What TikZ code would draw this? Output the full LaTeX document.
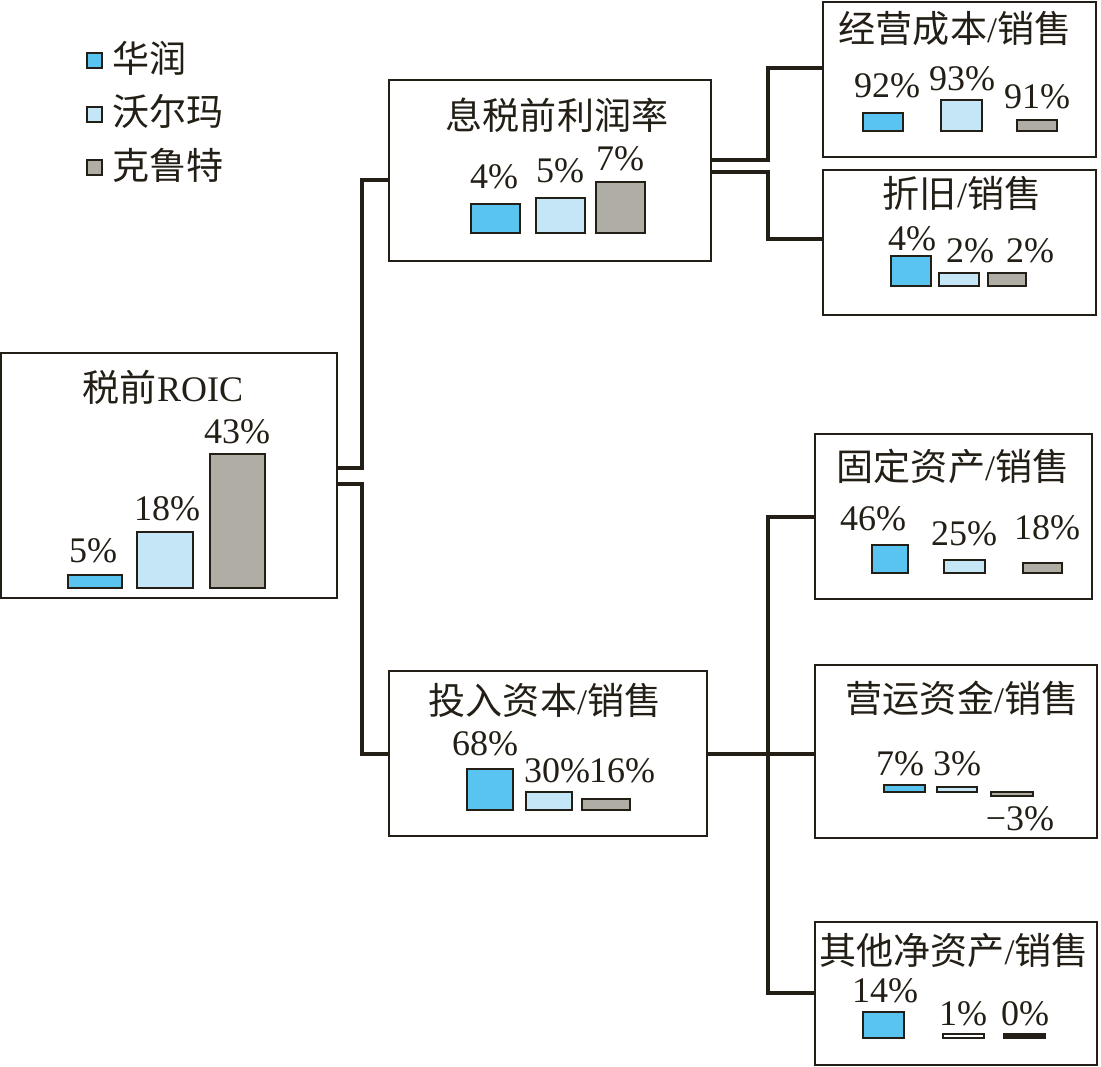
\documentclass[tikz,border=0pt]{standalone}
\usepackage{fontspec}
\setmainfont{Liberation Serif}
\newfontfamily\cjk[Scale=1.03]{Noto Sans CJK SC}
\definecolor{ink}{RGB}{35,31,22}
\definecolor{cA}{RGB}{90,196,240}
\definecolor{cB}{RGB}{196,230,247}
\definecolor{cC}{RGB}{176,173,165}
\begin{document}
\begin{tikzpicture}[x=0.75pt,y=-0.75pt,
  box/.style={draw=ink, line width=1.5pt, rectangle, inner sep=0pt, fill=white},
  conn/.style={draw=ink, line width=2.3pt},
  txt/.style={anchor=base, inner sep=0pt, font=\fontsize{27}{30}\selectfont, text=ink},
  hr/.style={fill=cA, draw=ink, line width=1.2pt},
  wm/.style={fill=cB, draw=ink, line width=1.2pt},
  kr/.style={fill=cC, draw=ink, line width=1.2pt}]
\useasboundingbox (0,0) rectangle (1101,1067);
\fill[white] (0,0) rectangle (1101,1067);

% boxes
\node[box, minimum width=252pt, minimum height=183.75pt] (roic) at (169,475.5) {};
\node[box, minimum width=241.5pt, minimum height=135.75pt] (ebit) at (550,170.5) {};
\node[box, minimum width=238.5pt, minimum height=123.75pt] (ic) at (548,753.5) {};
\node[box, minimum width=204.75pt, minimum height=116.25pt] (opc) at (959.5,79.5) {};
\node[box, minimum width=204.75pt, minimum height=108.75pt] (dep) at (959.5,242.5) {};
\node[box, minimum width=207.75pt, minimum height=123.75pt] (fa) at (953.5,516.5) {};
\node[box, minimum width=211.5pt, minimum height=129.75pt] (wc) at (956,751.5) {};
\node[box, minimum width=211.5pt, minimum height=107.25pt] (ona) at (956,993.5) {};

% connectors
\draw[conn] (roic.east |- 0,468) -| (362,180) -- (ebit.west |- 0,180);
\draw[conn] (roic.east |- 0,484) -| (362,754) -- (ic.west |- 0,754);
\draw[conn] (ebit.east |- 0,160) -| (768,68) -- (opc.west |- 0,68);
\draw[conn] (ebit.east |- 0,172) -| (768,239) -- (dep.west |- 0,239);
\draw[conn] (fa.west |- 0,517) -| (768,993) -- (ona.west |- 0,993);
\draw[conn] (ic.east |- 0,754) -- (wc.west |- 0,754);

% legend
\path[hr] (87,53) rectangle (102,68);
\path[wm] (87,107) rectangle (102,122);
\path[kr] (87,160) rectangle (102,175);
\node[txt, anchor=base west] (lg1) at (112,72) {\cjk 华润};
\node[txt, anchor=base west] (lg2) at (112,125) {\cjk 沃尔玛};
\node[txt, anchor=base west] (lg3) at (112,179) {\cjk 克鲁特};

% titles
\node[txt] (troic) at (163,401) {{\cjk 税前}ROIC};
\node[txt] (tebit) at (557,129) {\cjk 息税前利润率};
\node[txt] (tic) at (545,714) {{\cjk 投入资本}/{\cjk 销售}};
\node[txt] (topc) at (955,42) {{\cjk 经营成本}/{\cjk 销售}};
\node[txt] (tdep) at (962,207) {{\cjk 折旧}/{\cjk 销售}};
\node[txt] (tfa) at (953,480) {{\cjk 固定资产}/{\cjk 销售}};
\node[txt] (twc) at (962,712) {{\cjk 营运资金}/{\cjk 销售}};
\node[txt] (tona) at (954,964) {{\cjk 其他净资产}/{\cjk 销售}};

% roic bars
\path[hr] (68,575) rectangle (122,588);
\path[wm] (137,532) rectangle (193,588);
\path[kr] (210,454) rectangle (265,588);
\node[txt] (r1) at (93,562) {5\%};
\node[txt] (r2) at (167,520) {18\%};
\node[txt] (r3) at (237,443) {43\%};

% ebit bars
\path[hr] (471,204) rectangle (520,233);
\path[wm] (536,198) rectangle (585,233);
\path[kr] (596,182) rectangle (645,233);
\node[txt] (e1) at (494,188) {4\%};
\node[txt] (e2) at (560,182) {5\%};
\node[txt] (e3) at (620,170) {7\%};

% ic bars
\path[hr] (467,769) rectangle (513,810);
\path[wm] (526,792) rectangle (572,810);
\path[kr] (582,799) rectangle (630,810);
\node[txt] (i1) at (485,755) {68\%};
\node[txt] (i2) at (557,782) {30\%};
\node[txt] (i3) at (622,782) {16\%};

% opc bars
\path[hr] (863,113) rectangle (903,131);
\path[wm] (941,100) rectangle (982,131);
\path[kr] (1017,120) rectangle (1057,131);
\node[txt] (o1) at (887,97) {92\%};
\node[txt] (o2) at (962,90) {93\%};
\node[txt] (o3) at (1037,108) {91\%};

% dep bars
\path[hr] (891,256) rectangle (931,286);
\path[wm] (939,273) rectangle (979,286);
\path[kr] (988,273) rectangle (1026,286);
\node[txt] (d1) at (912,250) {4\%};
\node[txt] (d2) at (970,262) {2\%};
\node[txt] (d3) at (1030,262) {2\%};

% fa bars
\path[hr] (872,545) rectangle (908,573);
\path[wm] (944,560) rectangle (985,573);
\path[kr] (1023,563) rectangle (1062,573);
\node[txt] (f1) at (873,530) {46\%};
\node[txt] (f2) at (964,545) {25\%};
\node[txt] (f3) at (1047,539) {18\%};

% wc bars
\path[hr] (884,785) rectangle (925,792);
\path[wm] (937,787) rectangle (977,792);
\path[kr] (991,792) rectangle (1033,796);
\node[txt] (w1) at (900,775) {7\%};
\node[txt] (w2) at (957,775) {3\%};
\node[txt] (w3) at (1020,830) {−3\%};

% ona bars
\path[hr] (863,1012) rectangle (904,1038);
\path[draw=ink, fill=white, line width=1.2pt] (943,1034) rectangle (984,1038);
\path[draw=ink, fill=ink, line width=1.2pt] (1004,1034) rectangle (1045,1038);
\node[txt] (n1) at (885,1002) {14\%};
\node[txt] (n2) at (963,1025) {1\%};
\node[txt] (n3) at (1025,1025) {0\%};
\end{tikzpicture}
\end{document}
